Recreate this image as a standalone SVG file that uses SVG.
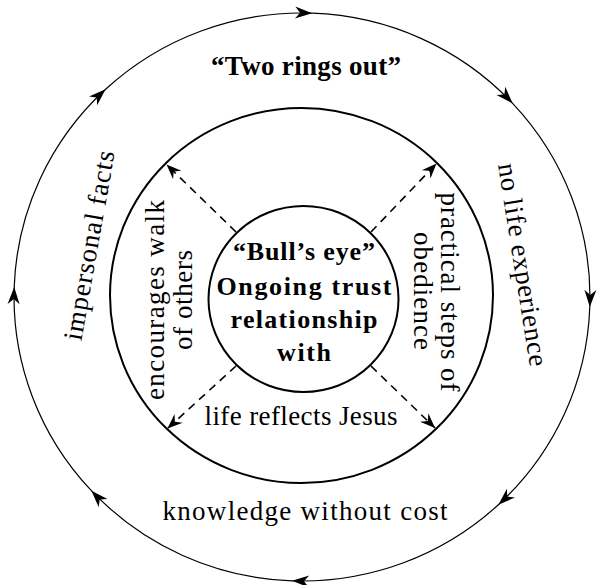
<svg xmlns="http://www.w3.org/2000/svg" width="605" height="585" viewBox="0 0 605 585">
<defs>
<style>
.ring{fill:none;stroke:#000}
.t{font-family:"Liberation Serif","Times New Roman",serif;font-size:27px;fill:#000}
.b{font-weight:bold;font-size:26px}
.dash{fill:none;stroke:#000;stroke-width:1.6;stroke-dasharray:8 6}
</style>
<marker id="ah" markerUnits="userSpaceOnUse" viewBox="-18 -7 19 14" markerWidth="19" markerHeight="14" refX="0" refY="0" orient="auto">
<path d="M0,0 L-17,-6 L-12,0 L-17,6 Z" fill="#000"/>
</marker>
<marker id="ah2" markerUnits="userSpaceOnUse" viewBox="-16 -7 17 14" markerWidth="17" markerHeight="14" refX="0" refY="0" orient="auto">
<path d="M0,0 L-15,-6 L-10,0 L-15,6 Z" fill="#000"/>
</marker>
</defs>
<rect width="605" height="585" fill="#fff"/>

<g id="outer-ring">
<path class="ring" stroke-width="1.2" marker-mid="url(#ah)" marker-end="url(#ah)" d="M312.1,13.2 A288,284 0 0 1 512.6,103.3 A288,284 0 0 1 589.8,306.9 A288,284 0 0 1 498.4,504.7 A288,284 0 0 1 292,580.8 A288,284 0 0 1 91.4,490.7 A288,284 0 0 1 14.2,287.1 A288,284 0 0 1 105.6,89.3 A288,284 0 0 1 312.1,13.2"/>
<text class="t b" x="306" y="75" text-anchor="middle" textLength="190" lengthAdjust="spacing" style="font-size:27px">“Two rings out”</text>
<text class="t" x="305" y="520" text-anchor="middle" textLength="285" lengthAdjust="spacing">knowledge without cost</text>
<text class="t" transform="translate(98,247) rotate(-80)" x="0" y="0" text-anchor="middle" textLength="192" lengthAdjust="spacing">impersonal facts</text>
<text class="t" transform="translate(514,266) rotate(81)" x="0" y="0" text-anchor="middle" textLength="205" lengthAdjust="spacing">no life experience</text>
</g>

<g id="middle-ring">
<ellipse class="ring" stroke-width="2" cx="301.5" cy="295.5" rx="191.5" ry="187.5"/>
<text class="t" transform="translate(164,300) rotate(-90)" x="0" y="0" text-anchor="middle" textLength="200" lengthAdjust="spacing">encourages walk</text>
<text class="t" transform="translate(192,300) rotate(-90)" x="0" y="0" text-anchor="middle" textLength="100" lengthAdjust="spacing">of others</text>
<text class="t" transform="translate(441,292) rotate(90)" x="0" y="0" text-anchor="middle" textLength="199" lengthAdjust="spacing">practical steps of</text>
<text class="t" transform="translate(414,291) rotate(90)" x="0" y="0" text-anchor="middle" textLength="118" lengthAdjust="spacing">obedience</text>
<text class="t" x="301" y="425" text-anchor="middle" textLength="193" lengthAdjust="spacing">life reflects Jesus</text>
</g>

<g id="bulls-eye">
<ellipse class="ring" stroke-width="2" cx="303.5" cy="299" rx="95" ry="93"/>
<text class="t b" x="304" y="260" text-anchor="middle" textLength="142" lengthAdjust="spacing">“Bull’s eye”</text>
<text class="t b" x="304" y="295" text-anchor="middle" textLength="175" lengthAdjust="spacing">Ongoing trust</text>
<text class="t b" x="304" y="328" text-anchor="middle" textLength="147" lengthAdjust="spacing">relationship</text>
<text class="t b" x="304" y="361" text-anchor="middle" textLength="54" lengthAdjust="spacing">with</text>
</g>

<g id="connectors">
<path class="dash" marker-end="url(#ah2)" d="M236,232 L166.5,164.5"/>
<path class="dash" marker-end="url(#ah2)" d="M371,232 L436.5,163.5"/>
<path class="dash" marker-end="url(#ah2)" d="M236,366 L167.5,428.5"/>
<path class="dash" marker-end="url(#ah2)" d="M371,366 L435,428"/>
</g>
</svg>
